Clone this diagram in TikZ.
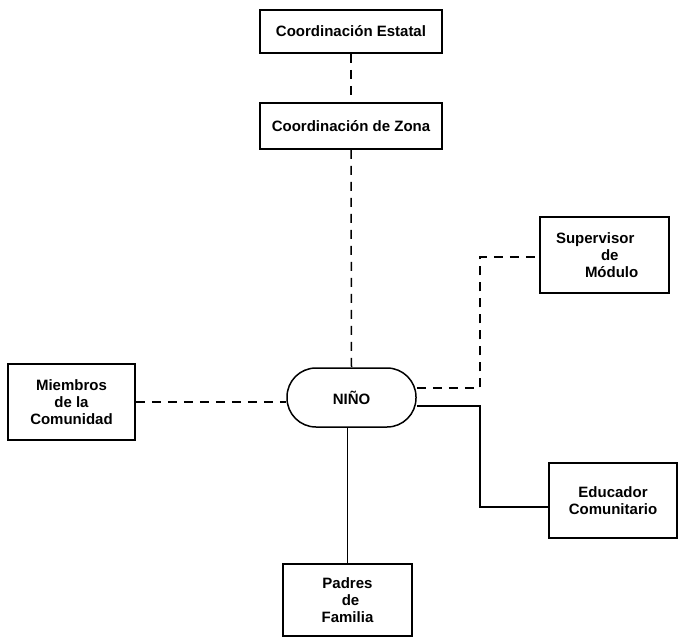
\documentclass[tikz,border=0pt]{standalone}
\usepackage{fontspec}
\setmainfont{Liberation Sans}
\begin{document}
\begin{tikzpicture}[x=1pt,y=-1pt,
  box/.style={draw,line width=1.5pt,inner sep=0pt,font=\fontsize{15}{17}\selectfont\bfseries,align=center},
  link/.style={line width=1.5pt},
  dlink/.style={line width=1.5pt,dash pattern=on 9pt off 7pt}]
\useasboundingbox (0,0) rectangle (678,641);
\node[box,minimum width=182pt,minimum height=43pt] (est) at (351,31.5) {Coordinación Estatal};
\node[box,minimum width=182pt,minimum height=46pt] (zon) at (351,126) {Coordinación de Zona};
\node[box,minimum width=129pt,minimum height=59pt,rounded corners=29pt] (nino) at (351.5,397.5) {NIÑO};
\node[box,minimum width=129pt,minimum height=76pt,align=left,inner xsep=16pt,text width=97pt] (sup) at (604.5,255) {Supervisor\\\hspace*{45pt}de\\\hspace*{29pt}Módulo};
\node[box,minimum width=128pt,minimum height=75pt] (edu) at (613,500.5) {Educador\\Comunitario};
\node[box,minimum width=127pt,minimum height=76pt] (mie) at (71.5,402) {Miembros\\de la\\Comunidad};
\node[box,minimum width=129pt,minimum height=72pt] (pad) at (347.5,600) {Padres\\\hspace*{6pt}de\\Familia};
\coordinate (j1) at (480,257);
\coordinate (j2) at (480,507);
\draw[dlink] (est.south) -- (zon.north);
\draw[dlink] (zon.south) -- (nino.north);
\draw[dlink] ([yshift=9.5pt]nino.east) -| (j1) -- (sup.west |- j1);
\draw[link] ([yshift=-8.5pt]nino.east) -| (j2) -- (edu.west |- j2);
\draw[dlink] (mie.east) -- (nino.west |- mie.east);
\draw[link] (nino.south -| pad.north) -- (pad.north);
\end{tikzpicture}
\end{document}
